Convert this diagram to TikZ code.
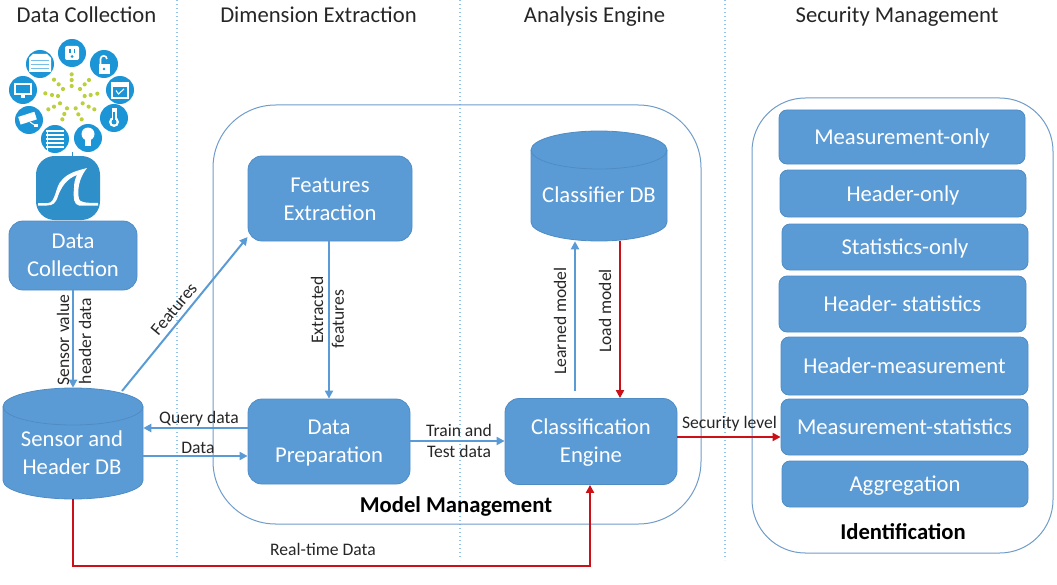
\documentclass[tikz,border=0pt]{standalone}
\usepackage{fontspec}
\setmainfont{Carlito}
\usetikzlibrary{arrows.meta}
\definecolor{boxfill}{HTML}{5B9BD5}
\definecolor{boxline}{HTML}{4F8CC4}
\definecolor{arrowblue}{HTML}{5B9BD5}
\definecolor{redline}{HTML}{CC1018}
\definecolor{contline}{HTML}{6F9CC9}
\definecolor{dotline}{HTML}{8FC3EA}
\definecolor{iconblue}{HTML}{1B95D6}
\definecolor{sharkblue}{HTML}{2E8FC9}
\definecolor{dotgreen}{HTML}{BCCF3C}
\definecolor{headtext}{HTML}{262626}
\tikzset{
  bluebox/.style={rectangle,rounded corners=10.5pt,fill=boxfill,draw=boxline,line width=0.6pt,text=white,align=center,inner sep=0pt,font=\fontsize{17}{21}\selectfont},
  listbox/.style={bluebox,rounded corners=6pt,text height=14pt,text depth=2.5pt},
  dbtext/.style={rectangle,inner sep=0pt,text=white,align=center,font=\fontsize{17}{21}\selectfont},
  container/.style={rectangle,draw=contline,line width=0.75pt,fill=none,inner sep=0pt},
  headlabel/.style={text=headtext,inner sep=0pt,text height=14pt,text depth=2.5pt,font=\fontsize{17}{19}\selectfont},
  edgelabel/.style={text=headtext,inner sep=0pt,align=center,font=\fontsize{13.2}{15.75}\selectfont},
  boldlabel/.style={text=black,inner sep=0pt,font=\bfseries\fontsize{17}{18}\selectfont},
  blueflow/.style={draw=arrowblue,line width=1.5pt,-{Triangle[length=6pt,width=6pt]}},
  redflow/.style={draw=redline,line width=1.5pt,-{Triangle[length=6pt,width=6pt]}},
  divider/.style={draw=dotline,line width=1pt,dotted},
  icondisc/.style={fill=iconblue,draw=none},
  iconwhite/.style={fill=white,draw=none},
  iconstroke/.style={draw=white,line width=0.8pt,fill=none},
  raydot/.style={fill=dotgreen,draw=none},
}
% name, left, top, bottom, right, ry
\newcommand{\dbcyl}[6]{%
  \fill[boxfill,draw=boxline,line width=0.6pt]
    (#2,#3+#6) -- (#2,#4-#6)
    arc[start angle=180,end angle=360,x radius={(#5-#2)/2},y radius=-#6]
    -- (#5,#3+#6)
    arc[start angle=0,end angle=180,x radius={(#5-#2)/2},y radius=-#6] -- cycle;
  \draw[boxline,line width=0.6pt]
    (#2,#3+#6) arc[start angle=180,end angle=360,x radius={(#5-#2)/2},y radius=-#6];
  \node[dbtext,minimum width={(#5-#2)*0.75pt},minimum height={(#4-#3)*0.75pt}] (#1) at ({(#2+#5)/2},{(#3+#4)/2}) {};
}
\newcommand{\listentry}[6]{%
  \node[listbox,minimum width={(#3-#2)*0.75pt},minimum height={(#5-#4)*0.75pt}] (#1) at ({(#2+#3)/2},{(#4+#5)/2}) {#6};
}
\begin{document}
\begin{tikzpicture}[x=0.75pt,y=-0.75pt]
\useasboundingbox (0,0) rectangle (1057,585);

% column dividers
\coordinate (d1a) at (177,0); \coordinate (d1b) at (177,560);
\coordinate (d2a) at (460,0); \coordinate (d2b) at (460,560);
\coordinate (d3a) at (725,0); \coordinate (d3b) at (725,560);
\draw[divider] (d1a) -- (d1b);
\draw[divider] (d2a) -- (d2b);
\draw[divider] (d3a) -- (d3b);

% column headers
\node[headlabel] (h1) at (86.5,15) {Data Collection};
\node[headlabel] (h2) at (318.5,15) {Dimension Extraction};
\node[headlabel] (h3) at (594.5,15) {Analysis Engine};
\node[headlabel] (h4) at (897,15) {Security Management};

% containers
\node[container,rounded corners=47pt,minimum width=488*0.75pt,minimum height=419*0.75pt] (mm) at (457,314.5) {};
\node[container,rounded corners=40pt,minimum width=301*0.75pt,minimum height=455*0.75pt] (idc) at (902.5,325.5) {};

% radial dots
\foreach \px/\py in {215/133,215/150,215/168,267/150,254/163,240/177,292/191,272/195,254/198,283/238,266/230,248/220,245/268,235/253,227/235,187/268,193/252,201/235,145/238,162/230,180/220,136/190,156/195,174/198,162/149,176/163,189/177}
  \fill[raydot] ({\px/3},{30+\py/3}) circle[radius=2.1];

% device icons
\foreach \cx/\cy in {72/53,104/64,120/90,114/118,88/138,55/139,29/120,23/90,40/64}
  \fill[icondisc] (\cx,\cy) circle[radius=14];
% outlet
\fill[iconwhite,rounded corners=1.5pt] (65,46) rectangle (79,60);
\fill[icondisc] (69,49) rectangle (70.5,53);
\fill[icondisc] (73.5,49) rectangle (75,53);
\fill[icondisc] (72,56.5) circle[radius=1.5];
% lock
\fill[iconwhite] (98.5,64) rectangle (109.5,74);
\draw[iconstroke,line width=1.2pt] (100.5,64) -- (100.5,59) arc[start angle=180,end angle=0,x radius=3.2,y radius=-3.2];
\fill[icondisc] (104,69) circle[radius=1.4];
% calendar
\draw[iconstroke,line width=1.1pt] (112,83) rectangle (128,98);
\fill[iconwhite] (112,83) rectangle (128,87);
\draw[iconstroke] (116,90.5) -- (118.5,94) -- (124,89);
% thermometer
\fill[iconwhite] (111.5,108) rectangle (116.5,120);
\fill[iconwhite] (114,122) circle[radius=5];
\fill[icondisc] (114,122) circle[radius=2.5];
\fill[icondisc] (113.2,112) rectangle (114.8,122);
% bulb
\fill[iconwhite] (88,134) circle[radius=6.5];
\fill[iconwhite] (85,138) rectangle (91,146);
% shutters
\foreach \sy in {130,134,138,142,146}
  \fill[iconwhite] (46,\sy) rectangle (64,\sy+2.2);
\fill[iconwhite] (47,130) rectangle (48,151);
% camera
\fill[iconwhite,rotate around={18:(28,118)}] (19,114) rectangle (36,122);
\fill[iconwhite] (34,124) rectangle (38,127);
\draw[iconstroke] (30,122) -- (36,126);
% monitor
\draw[iconstroke,line width=1.2pt] (15,84) rectangle (31,94);
\fill[iconwhite] (21,95) rectangle (25,98);
% garage
\fill[iconwhite] (29,58) -- (33,54) -- (47,54) -- (51,58) -- (51,72) -- (29,72) -- cycle;
\foreach \gy in {60,64,68}
  \fill[iconblue!60] (31,\gy) rectangle (49,\gy+1);

% shark-fin logo
\draw[sharkblue,line width=0.6pt] (72,152) -- (72,157);
\fill[sharkblue,rounded corners=14pt] (36,156) rectangle (100,220);
\fill[white] (38,203) -- (48,203) .. controls (56,203) and (55,186) .. (62,180) .. controls (68,173) and (76,171) .. (87,168) .. controls (79,178) and (77,190) .. (79,199) .. controls (80,202) and (84,203) .. (98,203) -- (98,205.5) -- (79,205.5) .. controls (74,205) and (73,198) .. (74,188) .. controls (74,183) and (75,179) .. (77,175) .. controls (66,179) and (61,188) .. (58,196) .. controls (56,203) and (53,205.5) .. (47,205.5) -- (38,205.5) -- cycle;

% process boxes
\node[bluebox,minimum width=128*0.75pt,minimum height=69*0.75pt] (dc) at (73,255.5) {Data\\Collection};
\node[bluebox,minimum width=164*0.75pt,minimum height=85*0.75pt] (fe) at (330,198.5) {};
\node[dbtext] (fet) at (330,199.5) {Features\\Extraction};
\node[bluebox,minimum width=162*0.75pt,minimum height=85*0.75pt] (dp) at (329,441.5) {};
\node[dbtext] (dpt) at (329,443) {Data\\Preparation};
\node[bluebox,minimum width=172*0.75pt,minimum height=86*0.75pt] (ce) at (591,441.5) {};
\node[dbtext] (cet) at (591,442.5) {Classification\\Engine};

% databases
\dbcyl{sdb}{3}{388}{499}{143}{18.5}
\node[dbtext] (sdbt) at (72,453) {Sensor and\\Header DB};
\dbcyl{cdb}{531}{131}{241}{667}{19}
\node[dbtext] (cdbt) at (599,195) {Classifier DB};

% identification list
\listentry{l1}{779}{1025}{110}{164}{Measurement-only}
\listentry{l2}{780}{1026}{170}{217}{Header-only}
\listentry{l3}{782}{1028}{224}{270}{Statistics-only}
\listentry{l4}{779}{1026}{276}{332}{Header- statistics}
\listentry{l5}{781}{1028}{337}{395}{Header-measurement}
\listentry{l6}{781}{1028}{399}{455}{Measurement-statistics}
\listentry{l7}{782}{1028}{461}{507}{Aggregation}

% blue connectors
\draw[blueflow] (dc.south) -- (sdb.north);
\coordinate (fstart) at (122,391);
\draw[blueflow] (fstart) -- (fe.west |- 0,237);
\draw[blueflow] (fe.south -| dp.north) -- (dp.north);
\draw[blueflow] (dp.west |- 0,428) -- (sdb.east |- 0,428);
\draw[blueflow] (sdb.east |- 0,456) -- (dp.west |- 0,456);
\draw[blueflow] (dp.east |- 0,441) -- (ce.west |- 0,441);
\coordinate (lmstart) at (575,391);
\draw[blueflow] (lmstart) -- (cdb.south -| lmstart);

% red connectors
\draw[redflow] (cdb.south -| 620,0) -- (ce.north -| 620,0);
\draw[redflow] (ce.east |- 0,437) -- (l6.west |- 0,437);
\coordinate (rt1) at (73,566);
\coordinate (rt2) at (590,566);
\draw[redflow] (sdb.south) -- (rt1) -- (rt2) -- (ce.south -| rt2);

% connector labels
\node[edgelabel,rotate=90] (lb1) at (63,340) {Sensor value};
\node[edgelabel,rotate=90] (lb2) at (85,341) {header data};
\node[edgelabel,rotate=50] (lb3) at (174,309) {Features};
\node[edgelabel,rotate=90] (lb4) at (317,310) {Extracted};
\node[edgelabel,rotate=90] (lb4b) at (338,319) {features};
\node[edgelabel] (lb5) at (199,419) {Query data};
\node[edgelabel] (lb6) at (198,448) {Data};
\node[edgelabel] (lb7) at (459,440.5) {Train and\\Test data};
\node[edgelabel,rotate=90] (lb8) at (560,321) {Learned model};
\node[edgelabel,rotate=90] (lb9) at (605,311) {Load model};
\node[edgelabel] (lb10) at (729.5,424) {Security level};
\node[edgelabel] (lb11) at (323,549) {Real-time Data};
\node[boldlabel] (lb12) at (456,506) {Model Management};
\node[boldlabel] (lb13) at (903,532) {Identification};
\end{tikzpicture}
\end{document}
